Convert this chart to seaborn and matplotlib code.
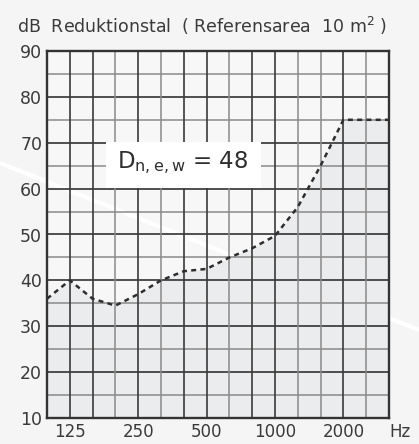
import matplotlib
matplotlib.use("Agg")
import matplotlib.pyplot as plt
from matplotlib.lines import Line2D
from matplotlib.patches import Rectangle
import seaborn as sns
import pandas as pd
import numpy as np

# ---- data ----
bands = ["100", "125", "160", "200", "250", "315", "400", "500", "630",
         "800", "1000", "1250", "1600", "2000", "2500", "3150"]
reduction_db = [36, 40, 36, 34.5, 37, 40, 42, 42.5, 45, 47, 49.7, 56, 65, 75, 75, 75]
tick_labels = ["125", "250", "500", "1000", "2000"]
y_ticks = [10, 20, 30, 40, 50, 60, 70, 80, 90]
rating_label = r"$\mathrm{D}_{\mathrm{n,e,w}}$ = 48"
title = r"dB  Reduktionstal  ( Referensarea  10 m$^{2}$ )"

df = pd.DataFrame({"idx": np.arange(len(bands)), "band": bands, "db": reduction_db})

sns.set_style("white")
plt.rcParams["font.family"] = ["DejaVu Sans"]
plt.rcParams["mathtext.fontset"] = "dejavusans"

W, H = 419, 444
fig = plt.figure(figsize=(W / 100, H / 100), dpi=100)
bg = "#f5f5f5"
fig.patch.set_facecolor(bg)
ax = fig.add_axes([47 / W, 1 - 418 / H, (389 - 47) / W, (418 - 51) / H])
ax.set_facecolor("#f7f7f7")

n = len(bands)
ax.set_xlim(0, n - 1)
ax.set_ylim(10, 90)

# decorative white streak
streak = Line2D([0, 1], [1 - 163 / H, 1 - 330 / H], transform=fig.transFigure,
                color="white", lw=3.2, alpha=0.95, zorder=0.6, clip_on=False,
                solid_capstyle="butt")
ax.add_line(streak)

# fill under curve
ax.fill_between(df["idx"], 10, df["db"], color="#ebecee", zorder=1, lw=0)

# grid
for v in range(15, 90, 5):
    dark = v % 10 == 0
    ax.axhline(v, color="#333333" if dark else "#8a8a8a", lw=1.2 if dark else 1.1, zorder=2)
gray_idx = {3, 5, 8, 11, 12, 14}
for i in range(1, n - 1):
    g = i in gray_idx
    ax.axvline(i, color="#8a8a8a" if g else "#3a3a3a", lw=1.1 if g else 1.2, zorder=2)

# curve
sns.lineplot(data=df, x="idx", y="db", ax=ax, color="#2e2e2e", lw=1.8,
             dashes=False, zorder=3)
ax.lines[-1].set_dashes((2.0, 1.7))

# rating box
ax.add_patch(Rectangle((2.6, 60.1), 6.8, 10.1, facecolor="white", edgecolor="none", zorder=4))
ax.text(5.95, 65.6, rating_label, ha="center", va="center", fontsize=16.5,
        color="#2e2e2e", zorder=5)

# axes styling
for s in ax.spines.values():
    s.set_color("#333333")
    s.set_linewidth(1.7)
    s.set_zorder(6)
    s.set_visible(True)

ax.set_yticks(y_ticks)
ax.set_yticklabels([str(v) for v in y_ticks])
ax.set_xticks([1, 4, 7, 10, 13])
ax.set_xticklabels(tick_labels)
ax.tick_params(axis="both", length=0, labelsize=12.5, labelcolor="#3a3a3a")
ax.tick_params(axis="y", pad=3.5)
ax.tick_params(axis="x", pad=3.5, labelsize=12)
ax.set_xlabel("")
ax.set_ylabel("")

fig.text(400 / W, 1 - 423 / H, "Hz", ha="center", va="top", fontsize=12, color="#3a3a3a")
fig.text(17 / W, 1 - 33 / H, title, ha="left", va="baseline", fontsize=12.5, color="#3a3a3a")

fig.savefig("out.png", dpi=100, facecolor=bg)
